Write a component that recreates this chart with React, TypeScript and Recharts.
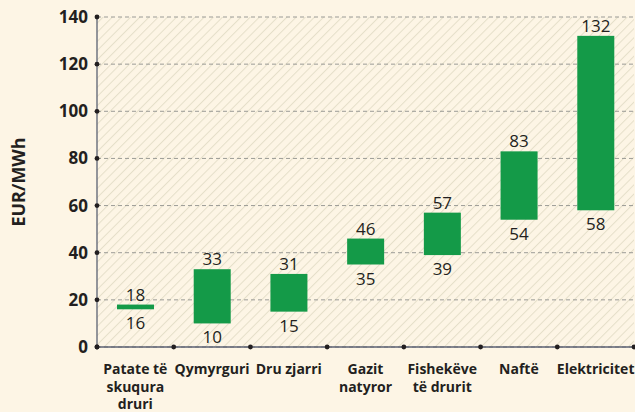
import { useLayoutEffect } from "react";
import { BarChart, Bar, XAxis, YAxis, CartesianGrid } from "recharts";

const categories = [
  "Patate të\nskuqura\ndruri",
  "Qymyrguri",
  "Dru zjarri",
  "Gazit\nnatyror",
  "Fishekëve\ntë drurit",
  "Naftë",
  "Elektricitet",
];
const lowValues = [16, 10, 15, 35, 39, 54, 58];
const highValues = [18, 33, 31, 46, 57, 83, 132];
const yTicks = [0, 20, 40, 60, 80, 100, 120, 140];

const data = categories.map((name, i) => ({ name, low: lowValues[i], high: highValues[i] }));

const W = 635;
const H = 412;
const MARGIN = { top: 17, right: 1, bottom: 5, left: 0 };
const Y_W = 97;
const BAND = (W - MARGIN.left - MARGIN.right - Y_W) / categories.length;

const BG = "#fdf5e5";
const GREEN = "#149a48";
const INK = "#231f20";
const FONT = "'Open Sans', 'Noto Sans', sans-serif";

// eslint-disable-next-line @typescript-eslint/no-explicit-any
function YTick({ x, y, payload }: any) {
  return (
    <g>
      <circle cx={x} cy={y} r={2.4} fill={INK} />
      <text x={x - 9} y={y + 6} textAnchor="end" fontSize={17} fontWeight={700} fill={INK} fontFamily={FONT}>
        {payload.value}
      </text>
    </g>
  );
}

// eslint-disable-next-line @typescript-eslint/no-explicit-any
function XTick({ x, y, payload, index }: any) {
  const lines = String(payload.value).split("\n");
  return (
    <g>
      <circle cx={x - BAND / 2} cy={y} r={2.4} fill={INK} />
      {index === categories.length - 1 && <circle cx={x + BAND / 2} cy={y} r={2.4} fill={INK} />}
      <text textAnchor="middle" fontSize={14} fontWeight={700} fill={INK} fontFamily={FONT}>
        {lines.map((l, i) => (
          <tspan key={i} x={x} y={y + 27 + i * 17.5}>
            {l}
          </tspan>
        ))}
      </text>
    </g>
  );
}

// eslint-disable-next-line @typescript-eslint/no-explicit-any
function RangeBar({ x, y, width, height, payload }: any) {
  const cx = x + width / 2;
  return (
    <g>
      <rect x={x} y={y} width={width} height={Math.max(height, 1)} fill={GREEN} />
      <text x={cx} y={y - 4} textAnchor="middle" fontSize={17} fill={INK} fontFamily={FONT}>
        {payload.high}
      </text>
      <text x={cx} y={y + height + 20} textAnchor="middle" fontSize={17} fill={INK} fontFamily={FONT}>
        {payload.low}
      </text>
    </g>
  );
}

export default function App() {
  useLayoutEffect(() => {
    document.body.style.margin = "0";
    document.body.style.background = BG;
  }, []);

  return (
    <div style={{ width: W, height: H, background: BG }}>
      <BarChart width={W} height={H} data={data} margin={MARGIN}>
        <defs>
          <pattern id="hatch" width={6.5} height={6.5} patternUnits="userSpaceOnUse" patternTransform="rotate(45)">
            <rect width={6.5} height={6.5} fill={BG} />
            <line x1={0} y1={0} x2={0} y2={6.5} stroke="#e5dfc9" strokeWidth={2} />
          </pattern>
        </defs>
        <CartesianGrid
          vertical={false}
          stroke="#9b9b96"
          strokeDasharray="4 3"
          fill="url(#hatch)"
          fillOpacity={1}
        />
        <XAxis
          dataKey="name"
          interval={0}
          height={60}
          tickSize={0}
          tickMargin={0}
          tickLine={false}
          axisLine={{ stroke: "#5b6172", strokeWidth: 1.3 }}
          tick={<XTick />}
        />
        <YAxis
          width={Y_W}
          domain={[0, 140]}
          ticks={yTicks}
          interval={0}
          tickSize={0}
          tickMargin={0}
          tickLine={false}
          axisLine={{ stroke: "#5b6172", strokeWidth: 1.3 }}
          tick={<YTick />}
          label={{
            value: "EUR/MWh",
            angle: -90,
            position: "insideLeft",
            offset: 19,
            style: { fontSize: 18, fontWeight: 700, fill: INK, fontFamily: FONT, textAnchor: "middle" },
          }}
        />
        <Bar
          dataKey={(d: { low: number; high: number }) => [d.low, d.high]}
          barSize={37}
          shape={<RangeBar />}
          isAnimationActive={false}
        />
      </BarChart>
    </div>
  );
}
